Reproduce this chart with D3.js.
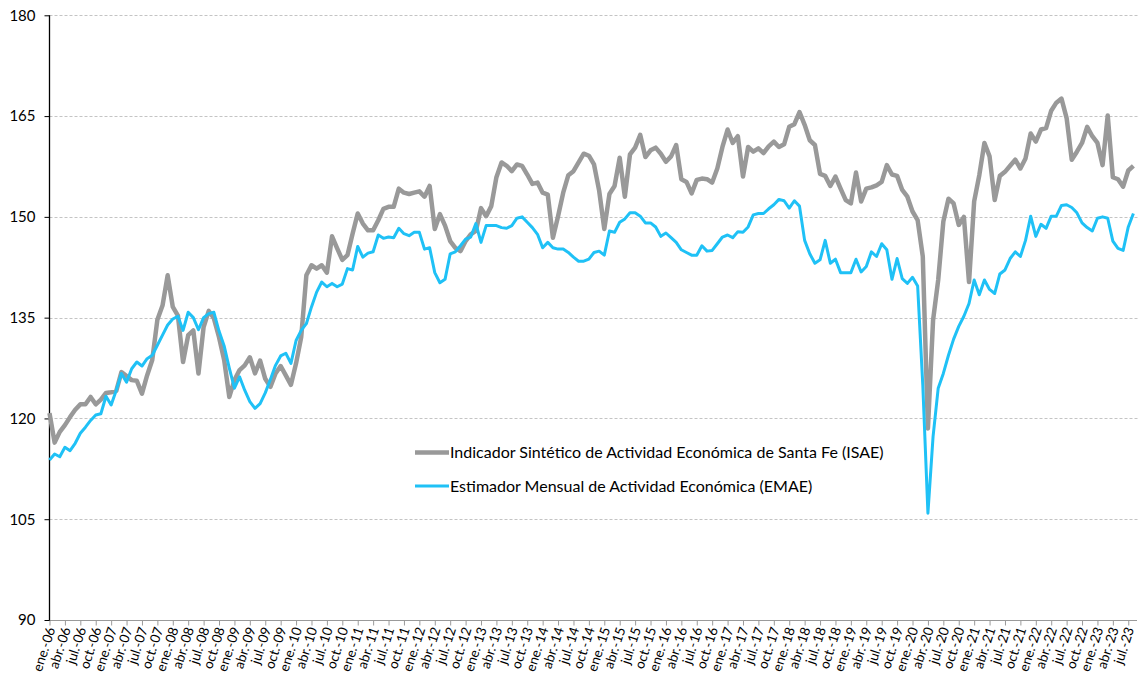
<!DOCTYPE html>
<html><head><meta charset="utf-8">
<script src="https://cdn.jsdelivr.net/npm/d3@7"></script>
<style>
html,body{margin:0;padding:0;background:#fff;}
svg{display:block;font-family:Lato,"Open Sans",sans-serif;}
</style></head>
<body><svg id="chart" width="1138" height="675"></svg>
<script>
const monthAbbr = ["ene.","feb.","mar.","abr.","may.","jun.","jul.","ago.","sep.","oct.","nov.","dic."];
const startYear = 2006;
const nMonths = 212; // ene.-06 .. ago.-23
const categories = d3.range(nMonths).map(i => monthAbbr[i % 12] + "-" + String((startYear + Math.floor(i / 12)) % 100).padStart(2, "0"));
const tickEvery = 3;
const yTicks = [90, 105, 120, 135, 150, 165, 180];

const seriesNames = [
  "Indicador Sintético de Actividad Económica de Santa Fe (ISAE)",
  "Estimador Mensual de Actividad Económica (EMAE)"
];

const isae = [
120.8,116.4,118.0,119.0,120.2,121.3,122.1,122.1,123.2,122.1,122.8,123.8,
123.9,124.1,126.9,126.3,125.7,125.6,123.7,126.4,128.7,134.7,136.8,141.3,
136.6,135.3,128.4,132.4,133.1,126.7,133.6,136.0,134.9,132.1,128.7,123.2,
125.7,127.2,127.9,129.1,126.7,128.6,125.9,124.7,126.7,127.8,126.4,125.0,
128.2,132.1,141.3,142.8,142.3,142.8,141.7,147.1,145.3,143.6,144.3,147.5,
150.5,149.0,148.0,148.0,149.5,151.2,151.5,151.5,154.2,153.6,153.4,153.6,
153.8,153.0,154.6,148.2,150.4,148.7,146.4,145.4,144.9,146.4,147.4,147.9,
151.3,150.1,151.6,155.9,158.1,157.6,156.8,157.8,157.6,156.3,154.9,155.1,
153.6,153.3,146.9,150.1,153.6,156.2,156.8,158.1,159.4,159.1,157.8,153.9,
148.2,153.4,154.6,158.8,153.0,159.3,160.3,162.2,158.9,159.9,160.3,159.4,
158.2,159.0,160.7,155.6,155.2,153.5,155.5,155.7,155.6,155.1,157.2,160.4,
163.0,161.0,162.0,156.0,160.4,159.7,160.2,159.5,160.5,161.2,160.4,160.8,
163.4,163.8,165.6,163.7,161.4,160.7,156.4,156.1,154.6,156.0,154.2,152.5,
152.0,156.6,152.3,154.2,154.4,154.7,155.2,157.7,156.3,156.1,154.0,153.0,
150.8,149.5,144.1,118.5,134.6,140.6,149.3,152.7,152.0,148.8,150.0,140.3,
152.3,156.2,161.0,159.0,152.5,156.1,156.7,157.6,158.5,157.2,158.7,162.4,
161.2,163.0,163.2,165.8,167.0,167.6,164.7,158.5,159.7,161.0,163.4,162.0,
161.0,157.7,165.1,155.9,155.6,154.5,156.9,157.6
];

const emae = [
113.8,114.7,114.3,115.7,115.2,116.3,117.8,118.7,119.7,120.5,120.7,123.3,
122.0,124.2,126.7,125.4,127.4,128.4,127.8,128.9,129.4,130.9,132.4,133.9,
134.8,135.2,133.1,135.8,135.0,133.2,135.0,135.6,135.8,133.0,130.8,127.5,
124.5,126.2,124.2,122.5,121.5,122.2,123.8,125.8,127.9,129.3,129.7,128.2,
131.6,133.1,134.1,136.6,138.8,140.3,139.6,140.1,139.6,140.0,142.3,142.1,
145.6,144.0,144.6,144.8,147.3,146.8,147.0,146.9,148.3,147.5,147.2,147.7,
147.7,145.2,145.4,141.7,140.2,140.7,144.5,144.8,145.7,146.7,147.0,149.0,
146.2,148.7,148.7,148.7,148.4,148.3,148.7,149.8,150.0,149.2,148.4,147.4,
145.4,146.2,145.4,145.2,145.2,144.7,144.0,143.4,143.4,143.7,144.7,144.9,
144.3,147.9,147.7,149.2,149.7,150.6,150.6,150.1,149.1,149.1,148.5,147.1,
147.6,146.9,146.2,145.1,144.7,144.3,144.3,145.7,144.9,145.0,146.0,147.0,
147.3,146.9,147.8,147.7,148.5,150.3,150.5,150.5,151.2,151.8,152.6,152.4,
151.3,152.4,151.6,146.5,144.5,143.1,143.6,146.5,143.1,143.7,141.7,141.7,
141.7,143.7,141.8,142.6,144.8,144.1,146.0,145.1,140.7,143.8,140.8,140.1,
141.0,139.7,125.0,105.9,117.3,124.5,126.7,129.4,131.8,133.7,135.2,137.1,
140.6,138.4,140.6,139.2,138.6,141.5,142.1,143.8,144.8,144.1,146.5,150.1,
147.1,148.9,148.3,150.1,150.1,151.7,151.8,151.4,150.6,149.1,148.4,147.9,
149.8,150.0,149.8,146.4,145.3,145.0,148.5,150.5
];

const colors = ["#999999", "#1fc1f6"];
const widths = [4.5, 3];

const svg = d3.select("#chart");
const x = d3.scaleLinear().domain([0, 211.7]).range([49.5, 1137]);
const y = d3.scaleLinear().domain([90, 180]).range([620, 15.3]);

// gridlines
svg.append("g").selectAll("line").data(yTicks.filter(t => t > 90)).join("line")
  .attr("x1", 49.5).attr("x2", 1138)
  .attr("y1", d => Math.round(y(d)) + 0.5).attr("y2", d => Math.round(y(d)) + 0.5)
  .attr("stroke", "#c4c4c4").attr("stroke-width", 1).attr("stroke-dasharray", "3,2");

// x axis
const xTickIdx = d3.range(0, nMonths, tickEvery);
const xAxis = d3.axisBottom(x).tickValues(xTickIdx).tickSize(5).tickFormat(i => categories[i]);
const gx = svg.append("g").attr("transform", "translate(0,620.5)").call(xAxis);
gx.select(".domain").attr("stroke", "#9a9a9a").attr("d", "M49.5,0H1137");
gx.selectAll(".tick line").attr("stroke", "#9a9a9a");
gx.selectAll(".tick text")
  .attr("font-family", "Lato").attr("font-size", 13.5).attr("fill", "#000")
  .attr("text-anchor", "end")
  .attr("transform", "translate(1,7) rotate(-72)")
  .attr("x", 0).attr("y", 0).attr("dy", "0.35em");

// y axis
const yAxis = d3.axisLeft(y).tickValues(yTicks).tickSize(5).tickPadding(9).tickFormat(d3.format("d"));
const gy = svg.append("g").attr("transform", "translate(49.5,0)").call(yAxis);
gy.select(".domain").attr("stroke", "#000").attr("stroke-width", 1.3).attr("d", "M0,15.3V620.5");
gy.selectAll(".tick line").attr("stroke", "#000");
gy.selectAll(".tick text").attr("font-family", "Lato").attr("font-size", 15).attr("fill", "#000");

// lines
const series = [isae, emae];
const line = d3.line().x((d, i) => x(i)).y(d => y(d));
series.forEach((s, k) => {
  svg.append("path").datum(s)
    .attr("fill", "none").attr("stroke", colors[k]).attr("stroke-width", widths[k])
    .attr("stroke-linejoin", "round").attr("d", line);
});

// legend
const legY = [452.5, 486];
seriesNames.forEach((name, k) => {
  svg.append("line").attr("x1", 415).attr("x2", 449).attr("y1", legY[k]).attr("y2", legY[k])
    .attr("stroke", colors[k]).attr("stroke-width", widths[k]);
  svg.append("text").attr("x", 450).attr("y", legY[k]).attr("dy", "0.35em")
    .attr("font-family", "Lato").attr("font-size", 16).attr("fill", "#000").text(name);
});
</script></body></html>
